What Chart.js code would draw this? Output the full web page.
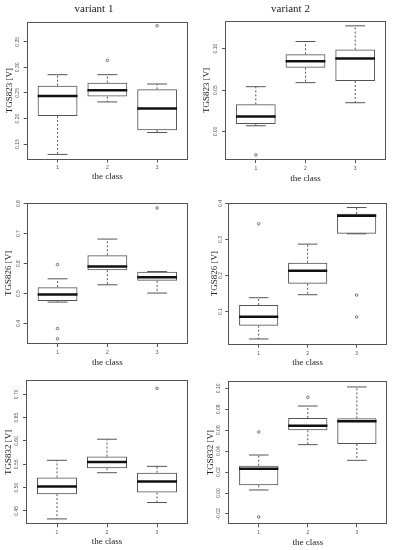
<!DOCTYPE html>
<html>
<head>
<meta charset="utf-8">
<script src="https://cdn.jsdelivr.net/npm/chart.js@4.4.0/dist/chart.umd.min.js"></script>
<style>
  html, body { margin: 0; padding: 0; background: #fff; }
  body { width: 393px; height: 550px; position: relative; overflow: hidden; }
  canvas { position: absolute; }
</style>
</head>
<body>
<canvas id="p1"></canvas>
<canvas id="p2"></canvas>
<canvas id="p3"></canvas>
<canvas id="p4"></canvas>
<canvas id="p5"></canvas>
<canvas id="p6"></canvas>
<script>
// --- data (lower whisker, Q1, median, Q3, upper whisker, outliers) ---
const classes = [1, 2, 3];

// variant 1 - TGS823
const v1_823_lo  = [0.1299, 0.2325, 0.1727];
const v1_823_q1  = [0.2052, 0.2429, 0.1773];
const v1_823_med = [0.2442, 0.2552, 0.2195];
const v1_823_q3  = [0.2643, 0.2701, 0.2571];
const v1_823_hi  = [0.2857, 0.2857, 0.2675];
const v1_823_out = [[], [0.3136], [0.3812]];
const v1_823_ticks = ['0.15', '0.20', '0.25', '0.30', '0.35'];
const v1_823_range = [0.120, 0.389];

// variant 2 - TGS823
const v2_823_lo  = [0.0069, 0.0589, 0.0347];
const v2_823_q1  = [0.0089, 0.0770, 0.0609];
const v2_823_med = [0.0181, 0.0847, 0.0879];
const v2_823_q3  = [0.0327, 0.0931, 0.0988];
const v2_823_hi  = [0.0540, 0.1085, 0.1274];
const v2_823_out = [[-0.0282], [], []];
const v2_823_ticks = ['0.00', '0.05', '0.10'];
const v2_823_range = [-0.0344, 0.1336];

// variant 1 - TGS826
const v1_826_lo  = [0.4715, 0.5293, 0.5017];
const v1_826_q1  = [0.4751, 0.5779, 0.5425];
const v1_826_med = [0.4972, 0.5901, 0.5547];
const v1_826_q3  = [0.5215, 0.6276, 0.5724];
const v1_826_hi  = [0.5492, 0.6818, 0.5735];
const v1_826_out = [[0.5967, 0.3834, 0.3492], [], [0.7856]];
const v1_826_ticks = ['0.4', '0.5', '0.6', '0.7', '0.8'];
const v1_826_range = [0.3318, 0.8031];

// variant 2 - TGS826
const v2_826_lo  = [0.0239, 0.1467, 0.3157];
const v2_826_q1  = [0.0608, 0.1772, 0.3157];
const v2_826_med = [0.0858, 0.2132, 0.3656];
const v2_826_q3  = [0.1181, 0.2354, 0.3711];
const v2_826_hi  = [0.1384, 0.2871, 0.3886];
const v2_826_out = [[0.3434], [], [0.1458, 0.0849]];
const v2_826_ticks = ['0.1', '0.2', '0.3', '0.4'];
const v2_826_range = [0.008, 0.402];

// variant 1 - TGS832
const v1_832_lo  = [0.4328, 0.5319, 0.4680];
const v1_832_q1  = [0.4859, 0.5412, 0.4895];
const v1_832_med = [0.5024, 0.5549, 0.5132];
const v1_832_q3  = [0.5218, 0.5664, 0.5319];
const v1_832_hi  = [0.5585, 0.6037, 0.5455];
const v1_832_out = [[], [], [0.7129]];
const v1_832_ticks = ['0.45', '0.50', '0.55', '0.60', '0.65', '0.70'];
const v1_832_range = [0.4213, 0.7300];

// variant 2 - TGS832
const v2_832_lo  = [0.0029, 0.0462, 0.0312];
const v2_832_q1  = [0.0073, 0.0599, 0.0468];
const v2_832_med = [0.0232, 0.0643, 0.0685];
const v2_832_q3  = [0.0261, 0.0717, 0.0713];
const v2_832_hi  = [0.0363, 0.0831, 0.1013];
const v2_832_out = [[0.0583, -0.0229], [0.0914], []];
const v2_832_ticks = ['-0.02', '0.00', '0.02', '0.04', '0.06', '0.08', '0.10'];
const v2_832_range = [-0.0299, 0.1070];

// --- styling ---
const SERIF = 'Liberation Serif';
const SANS = 'Liberation Sans';
const LINE = '#555';
const BOX_HALF = 0.4;   // R boxwex 0.8
const CAP_HALF = 0.2;   // staple half width
const xPad = 0.04 * classes.length;

// frame around the plot region like R's box()
const framePlugin = {
    id: 'frame',
    afterDatasetsDraw(chart) {
        const { ctx, chartArea: a } = chart;
        ctx.save();
        ctx.strokeStyle = LINE;
        ctx.lineWidth = 1;
        const l = Math.round(a.left) + 0.5, t = Math.round(a.top) + 0.5;
        const r = Math.round(a.right) - 0.5, b = Math.round(a.bottom) - 0.5;
        ctx.strokeRect(l, t, r - l, b - t);
        ctx.restore();
    }
};

function boxDatasets(lo, q1, med, q3, hi, out) {
    const boxes = classes.map((c, i) => ({ x: c, y: [q1[i], q3[i]] }));
    const medians = [], whiskers = [], caps = [], outliers = [];
    classes.forEach((c, i) => {
        medians.push({ x: c - BOX_HALF, y: med[i] }, { x: c + BOX_HALF, y: med[i] }, { x: c, y: null });
        whiskers.push({ x: c, y: q3[i] }, { x: c, y: hi[i] }, { x: c, y: null },
                      { x: c, y: q1[i] }, { x: c, y: lo[i] }, { x: c, y: null });
        caps.push({ x: c - CAP_HALF, y: hi[i] }, { x: c + CAP_HALF, y: hi[i] }, { x: c, y: null },
                  { x: c - CAP_HALF, y: lo[i] }, { x: c + CAP_HALF, y: lo[i] }, { x: c, y: null });
        out[i].forEach(v => outliers.push({ x: c, y: v }));
    });
    return [
        {
            type: 'line', data: medians, borderColor: '#111', borderWidth: 2.5,
            borderCapStyle: 'butt', pointRadius: 0, spanGaps: false, order: 0
        },
        {
            type: 'line', data: outliers, showLine: false, pointRadius: 1.3,
            pointBorderWidth: 0.8, pointBorderColor: LINE, pointBackgroundColor: 'rgba(0,0,0,0)', order: 1
        },
        {
            type: 'line', data: caps, borderColor: LINE, borderWidth: 1,
            pointRadius: 0, spanGaps: false, order: 2
        },
        {
            type: 'line', data: whiskers, borderColor: LINE, borderWidth: 1, borderDash: [2, 2],
            pointRadius: 0, spanGaps: false, order: 3
        },
        {
            type: 'bar', data: boxes, borderColor: LINE, borderWidth: 1, borderSkipped: false,
            backgroundColor: 'rgba(0,0,0,0)', barPercentage: 1, categoryPercentage: 2 * BOX_HALF, order: 4
        }
    ];
}

function makePanel(id, L, title, yLabel, ticks, range, stats) {
    const canvas = document.getElementById(id);
    canvas.width = L.cw;
    canvas.height = L.ch;
    canvas.style.left = L.cx + 'px';
    canvas.style.top = L.cy + 'px';

    return new Chart(canvas.getContext('2d'), {
        type: 'bar',
        data: { datasets: boxDatasets(...stats) },
        options: {
            responsive: false,
            animation: false,
            events: [],
            layout: { padding: { left: 0, right: L.pr, top: L.pt, bottom: 0 } },
            plugins: {
                legend: { display: false },
                tooltip: { enabled: false },
                title: {
                    display: !!title,
                    text: title,
                    color: '#222',
                    font: { family: SERIF, size: 11, weight: 'normal' },
                    padding: { top: 2.5, bottom: L.titlePadB }
                }
            },
            scales: {
                x: {
                    type: 'linear',
                    min: 0.5 - xPad,
                    max: classes.length + 0.5 + xPad,
                    offset: false,
                    afterFit: s => { s.height = L.xH; },
                    afterBuildTicks: s => { s.ticks = classes.map(c => ({ value: c })); },
                    ticks: {
                        callback: (v, i) => String(classes[i]),
                        autoSkip: false, maxRotation: 0, padding: 2.5,
                        color: LINE, font: { family: SANS, size: 5 }
                    },
                    grid: { drawOnChartArea: false, drawTicks: true, tickLength: 3, color: LINE, offset: false },
                    border: { display: false },
                    title: {
                        display: true, text: 'the class', color: '#222',
                        font: { family: SERIF, size: 9 }, padding: { top: 0, bottom: 0 }
                    }
                },
                y: {
                    min: range[0],
                    max: range[1],
                    beginAtZero: false,
                    afterFit: s => { s.width = L.yW; },
                    afterBuildTicks: s => { s.ticks = ticks.map(t => ({ value: Number(t) })); },
                    ticks: {
                        callback: (v, i) => ticks[i],
                        autoSkip: false, minRotation: 90, maxRotation: 90,
                        crossAlign: 'center', padding: 1.3,
                        color: LINE, font: { family: SANS, size: 5 }
                    },
                    grid: { drawOnChartArea: false, drawTicks: true, tickLength: 3, color: LINE },
                    border: { display: false },
                    title: {
                        display: true, text: yLabel, color: '#222',
                        font: { family: SERIF, size: 9 }, padding: { top: L.yTitlePad, bottom: 0 }
                    }
                }
            }
        },
        plugins: [framePlugin]
    });
}

// canvas placement for the 3x2 grid
const lay1 = { cx: 0,   cy: 0,   cw: 195, ch: 182, yW: 26.7, xH: 22.5, pr: 7,   pt: 0,    titlePadB: 6.1, yTitlePad: 4.1 };
const lay2 = { cx: 195, cy: 0,   cw: 198, ch: 184, yW: 30,   xH: 24,   pr: 7,   pt: 0,    titlePadB: 5.0, yTitlePad: 6.3 };
const lay3 = { cx: 0,   cy: 182, cw: 195, ch: 186, yW: 26.7, xH: 24,   pr: 7,   pt: 20.7, titlePadB: 0,   yTitlePad: 2.9 };
const lay4 = { cx: 195, cy: 182, cw: 198, ch: 186, yW: 33.3, xH: 23.3, pr: 6,   pt: 20.7, titlePadB: 0,   yTitlePad: 14.6 };
const lay5 = { cx: 0,   cy: 365, cw: 195, ch: 182, yW: 26,   xH: 22.7, pr: 7,   pt: 15.3, titlePadB: 0,   yTitlePad: 2.9 };
const lay6 = { cx: 195, cy: 365, cw: 198, ch: 183, yW: 33.3, xH: 23.7, pr: 5.7, pt: 16,   titlePadB: 0,   yTitlePad: 10.6 };

makePanel('p1', lay1, 'variant 1', 'TGS823 [V]', v1_823_ticks, v1_823_range,
    [v1_823_lo, v1_823_q1, v1_823_med, v1_823_q3, v1_823_hi, v1_823_out]);
makePanel('p2', lay2, 'variant 2', 'TGS823 [V]', v2_823_ticks, v2_823_range,
    [v2_823_lo, v2_823_q1, v2_823_med, v2_823_q3, v2_823_hi, v2_823_out]);
makePanel('p3', lay3, '', 'TGS826 [V]', v1_826_ticks, v1_826_range,
    [v1_826_lo, v1_826_q1, v1_826_med, v1_826_q3, v1_826_hi, v1_826_out]);
makePanel('p4', lay4, '', 'TGS826 [V]', v2_826_ticks, v2_826_range,
    [v2_826_lo, v2_826_q1, v2_826_med, v2_826_q3, v2_826_hi, v2_826_out]);
makePanel('p5', lay5, '', 'TGS832 [V]', v1_832_ticks, v1_832_range,
    [v1_832_lo, v1_832_q1, v1_832_med, v1_832_q3, v1_832_hi, v1_832_out]);
makePanel('p6', lay6, '', 'TGS832 [V]', v2_832_ticks, v2_832_range,
    [v2_832_lo, v2_832_q1, v2_832_med, v2_832_q3, v2_832_hi, v2_832_out]);
</script>
</body>
</html>
